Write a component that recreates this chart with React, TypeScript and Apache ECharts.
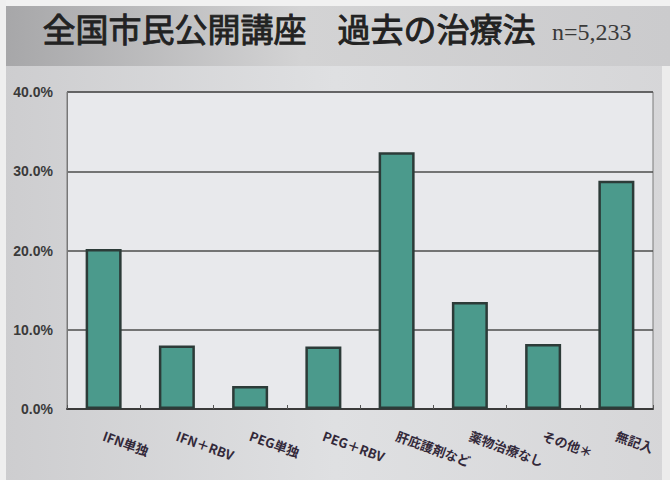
import React, { useEffect, useRef } from "react";
import * as echarts from "echarts";

const categories = ["IFN単独", "IFN＋RBV", "PEG単独", "PEG＋RBV", "肝庇護剤など", "薬物治療なし", "その他＊", "無記入"];
const values = [20.2, 8.0, 2.9, 7.9, 32.4, 13.5, 8.2, 28.8];
const yMin = 0;
const yMax = 40;
const yInterval = 10;
const titleMain = "全国市民公開講座";
const titleSub = "過去の治療法";
const titleN = "n=5,233";

export default function App() {
  const ref = useRef<HTMLDivElement>(null);
  useEffect(() => {
    if (!ref.current) return;
    const chart = echarts.init(ref.current, undefined, { renderer: "svg" });
    const jp = "'Noto Sans CJK JP', 'Noto Sans', sans-serif";
    chart.setOption({
      animation: false,
      backgroundColor: "transparent",
      graphic: [
        {
          type: "rect", z: -10, silent: true,
          shape: { x: 0, y: 0, width: 670, height: 480 },
          style: {
            fill: new echarts.graphic.LinearGradient(0, 0, 1, 0, [
              { offset: 0, color: "#cdcdcf" },
              { offset: 0.5, color: "#dfe0e2" },
              { offset: 1, color: "#d6d6d8" },
            ]),
          },
        },
        {
          type: "rect", z: -9, silent: true,
          shape: { x: 0, y: 6, width: 670, height: 60 },
          style: {
            fill: new echarts.graphic.LinearGradient(0, 0, 1, 0, [
              { offset: 0, color: "#a6a6a8" },
              { offset: 0.45, color: "#d3d3d4" },
              { offset: 1, color: "#cbcbcd" },
            ]),
          },
        },
        { type: "rect", z: -8, silent: true, shape: { x: 0, y: 0, width: 670, height: 6 }, style: { fill: "#f1f1f1" } },
        { type: "rect", z: -8, silent: true, shape: { x: 0, y: 0, width: 6, height: 480 }, style: { fill: "#efefef" } },
        { type: "rect", z: -8, silent: true, shape: { x: 662, y: 66, width: 8, height: 414 }, style: { fill: "#ececec" } },
        {
          type: "text", left: 42, top: 11, z: 10,
          style: { text: titleMain, font: `normal 33px ${jp}`, fill: "#222", stroke: "#222", lineWidth: 0.9 },
        },
        {
          type: "text", left: 337, top: 11, z: 10,
          style: { text: titleSub, font: `normal 33px ${jp}`, fill: "#222", stroke: "#222", lineWidth: 0.9 },
        },
        {
          type: "text", left: 552, top: 20, z: 10,
          style: { text: titleN, font: "24px 'Liberation Serif', serif", fill: "#3a3a3a" },
        },
      ],
      grid: {
        left: 67, right: 17, top: 92, bottom: 71,
        show: true, backgroundColor: "#e8e9ec", borderColor: "#7a7a7a", borderWidth: 1,
      },
      xAxis: {
        type: "category",
        data: categories,
        axisLine: { show: true, lineStyle: { color: "#3a3a3a", width: 2 } },
        axisTick: { show: true, inside: true, length: 4, lineStyle: { color: "#555" } },
        axisLabel: {
          rotate: -20, margin: 26, interval: 0,
          fontSize: 13, fontWeight: "bold", color: "#33293a", fontFamily: jp,
        },
      },
      yAxis: {
        type: "value",
        min: yMin, max: yMax, interval: yInterval,
        axisLine: { show: true, lineStyle: { color: "#777", width: 1 } },
        axisTick: { show: false },
        splitLine: { show: true, lineStyle: { color: "#4d4d4d", width: 1.5 } },
        axisLabel: {
          formatter: (v: number) => `${v.toFixed(1)}%`,
          margin: 14, fontSize: 14, fontWeight: "bold", color: "#3a3a3a",
          fontFamily: "'Liberation Sans', Arial, sans-serif",
        },
      },
      series: [
        {
          type: "bar",
          data: values,
          barWidth: 36,
          itemStyle: { color: "#4b9a8c", borderColor: "#2c3b38", borderWidth: 2.5 },
        },
      ],
    });
    return () => chart.dispose();
  }, []);
  return (
    <div
      ref={ref}
      style={{ position: "absolute", left: 0, top: 0, width: 670, height: 480 }}
    />
  );
}
